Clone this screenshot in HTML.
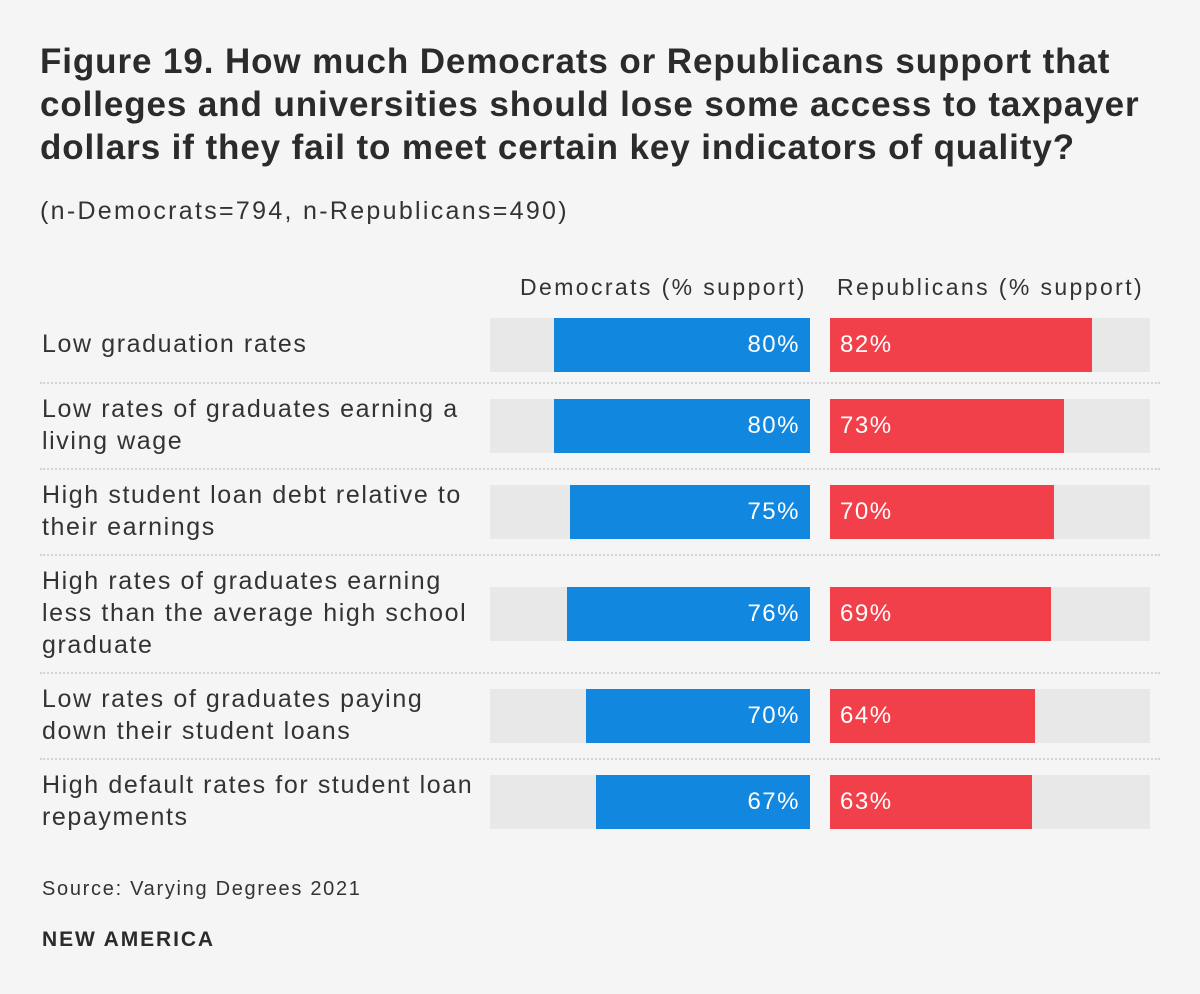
<!DOCTYPE html>
<html><head><meta charset="utf-8"><style>
body{margin:0;width:1200px;height:994px;background:#f5f5f5;font-family:"Liberation Sans",sans-serif;color:#333;position:relative;overflow:hidden}
.a{position:absolute}
#title{left:40px;top:40px;width:1150px;font-size:35px;font-weight:bold;line-height:43px;color:#2b2b2b;letter-spacing:0.9px}
#sub{left:40px;top:197px;font-size:25px;letter-spacing:2.3px;color:#333}
.hdr{top:274px;font-size:23px;letter-spacing:2.4px;color:#333}
.lbl{left:42px;font-size:25px;letter-spacing:1.6px;line-height:32px;color:#333;width:450px;white-space:nowrap}
.track{background:#e8e8e8;height:54px}
.bar{height:54px;color:#fff;font-size:24px;letter-spacing:1.5px;line-height:54px;box-sizing:border-box}
.sep{left:40px;width:1120px;border-top:2px dotted #d4d4d4;height:0}
#src{left:42px;top:878px;font-size:20px;letter-spacing:1.7px;color:#333}
#brand{left:42px;top:928px;font-size:21px;letter-spacing:1.9px;font-weight:bold;color:#2b2b2b}
</style></head><body>
<div class="a" id="title">Figure 19. How much Democrats or Republicans support that colleges and universities should lose some access to taxpayer dollars if they fail to meet certain key indicators of quality?</div>
<div class="a" id="sub">(n-Democrats=794, n-Republicans=490)</div>
<div class="a hdr" style="left:520px">Democrats (% support)</div>
<div class="a hdr" style="left:837px">Republicans (% support)</div>
<div id="chart"></div>
<div class="a" id="src">Source: Varying Degrees 2021</div>
<div class="a" id="brand">NEW AMERICA</div>
<script>
const categories=["Low graduation rates","Low rates of graduates earning a living wage","High student loan debt relative to their earnings","High rates of graduates earning less than the average high school graduate","Low rates of graduates paying down their student loans","High default rates for student loan repayments"];
const demValues=[80,80,75,76,70,67];
const repValues=[82,73,70,69,64,63];
const labelLines=[["Low graduation rates"],["Low rates of graduates earning a","living wage"],["High student loan debt relative to","their earnings"],["High rates of graduates earning","less than the average high school","graduate"],["Low rates of graduates paying","down their student loans"],["High default rates for student loan","repayments"]];
const W=320,H=54,demX=490,repX=830;
const sx=v=>v/100*W;
const chart=document.getElementById('chart');
let y=318;
function mk(cls,css){const d=document.createElement('div');d.className='a '+cls;Object.assign(d.style,css);chart.appendChild(d);return d;}
categories.forEach((c,i)=>{
  const n=labelLines[i].length;
  const rowH=Math.max(H,n*32);
  const barTop=y+(rowH-H)/2;
  const lbl=mk('lbl',{top:(y+(rowH-n*32)/2-1)+'px'});
  
  
  lbl.innerHTML=labelLines[i].join('<br>');
  const t1=mk('track',{left:demX+'px',top:barTop+'px',width:W+'px'});
  
  
  const w1=sx(demValues[i]);
  const b1=mk('bar',{left:(demX+W-w1)+'px',top:barTop+'px',width:w1+'px',background:'#1287e0',textAlign:'right',paddingRight:'10px'});
  
  
  b1.textContent=demValues[i]+'%';
  const t2=mk('track',{left:repX+'px',top:barTop+'px',width:W+'px'});
  
  
  const w2=sx(repValues[i]);
  const b2=mk('bar',{left:repX+'px',top:barTop+'px',width:w2+'px',background:'#f2404a',paddingLeft:'10px'});
  
  
  b2.textContent=repValues[i]+'%';
  y+=rowH;
  if(i<categories.length-1){
    const s=mk('sep',{top:(y+10)+'px'});
    
    
    y+=22;
  }
});
</script>
</body></html>
